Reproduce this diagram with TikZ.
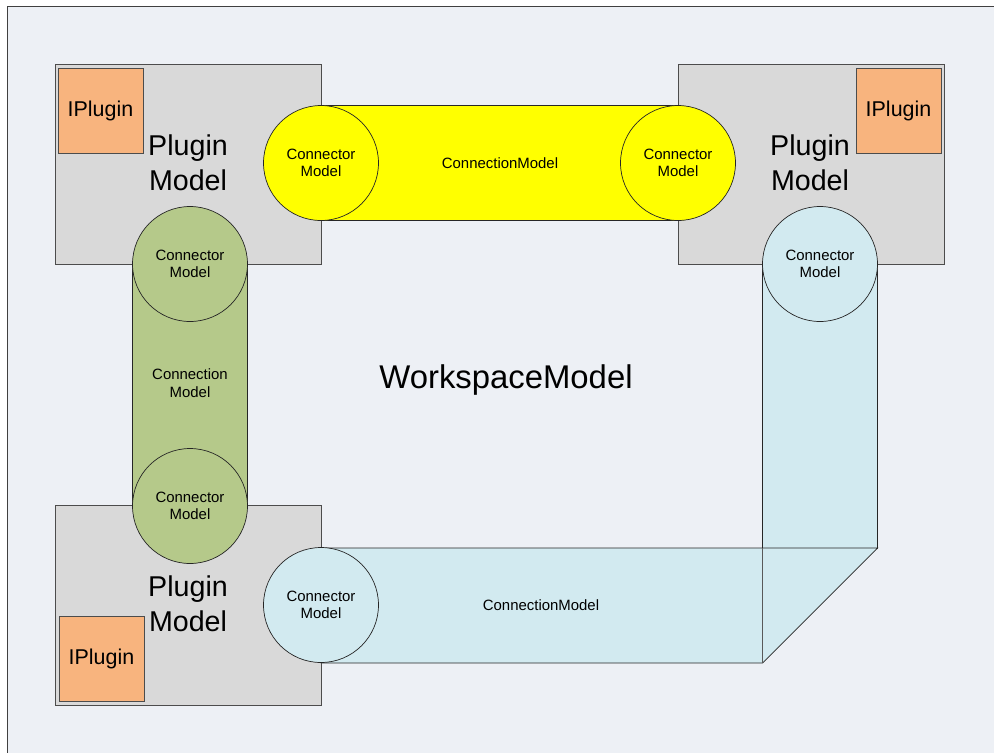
\documentclass[tikz,border=0pt]{standalone}
\usepackage{fontspec}
\setmainfont{Liberation Sans}
\usepackage{tikz}
\usetikzlibrary{calc}

\definecolor{wsback}{RGB}{237,240,245}
\definecolor{plugingray}{RGB}{217,217,217}
\definecolor{ipluginorange}{RGB}{248,180,126}
\definecolor{conyellow}{RGB}{255,255,0}
\definecolor{congreen}{RGB}{181,201,138}
\definecolor{conblue}{RGB}{210,234,240}

\tikzset{
    pluginbox/.style={draw=black!70, fill=plugingray},
    iplugin/.style={draw=black!70, fill=ipluginorange, minimum width=1.7cm, minimum height=1.7cm,
        inner sep=0pt, font=\fontsize{12.2}{14}\selectfont},
    pluginlabel/.style={align=center, font=\fontsize{16.3}{19.8}\selectfont},
    connector/.style={circle, draw=black!85, minimum size=2.3cm, inner sep=0pt, align=center,
        font=\fontsize{8.5}{9.4}\selectfont},
    connlabel/.style={align=center, font=\fontsize{8.5}{10.2}\selectfont},
}

\begin{document}
\begin{tikzpicture}[x=0.02cm, y=-0.02cm]
        \useasboundingbox (0,0) rectangle (994,752);
        \begin{scope}
            \clip (0,0) rectangle (994,752);
            \fill [white] (0,0) rectangle (994,752);
            \draw [fill=wsback, draw=black!75] (7,6) rectangle (1010,770);
        \end{scope}
        % plugin models
        \draw [pluginbox] (55,64) rectangle (321,264);
        \draw [pluginbox] (678,64) rectangle (944,264);
        \draw [pluginbox] (55,505) rectangle (321,705);
        \node [iplugin] (ipA) at (100.5,110.5) {IPlugin};
        \node [iplugin] (ipB) at (898.5,110.5) {IPlugin};
        \node [iplugin] (ipC) at (101.5,658.5) {IPlugin};
        \node [pluginlabel] (pmA) at (188,163) {Plugin\\Model};
        \node [pluginlabel] (pmB) at (810,163) {Plugin\\Model};
        \node [pluginlabel] (pmC) at (188,604) {Plugin\\Model};
        % connections
        \draw [fill=conyellow, draw=black!85] (321,105.5) rectangle (678,220.5);
        \draw [fill=congreen, draw=black!85] (132.5,264) rectangle (247.5,506);
        \draw [fill=conblue, draw=black!85] (762.5,264) rectangle (877.5,548);
        \draw [fill=conblue, draw=black!85]
            (321,548) -- (877.5,548) -- (762.5,663) -- (321,663) -- cycle;
        \draw [black!65] (762.5,548) -- (762.5,663);
        % connectors
        \node [connector, fill=conyellow] (cyA) at (321,163) {Connector\\Model};
        \node [connector, fill=conyellow] (cyB) at (678,163) {Connector\\Model};
        \node [connector, fill=congreen] (cgA) at (190,264) {Connector\\Model};
        \node [connector, fill=congreen] (cgB) at (190,506) {Connector\\Model};
        \node [connector, fill=conblue] (cbA) at (820,264) {Connector\\Model};
        \node [connector, fill=conblue] (cbB) at (321,605) {Connector\\Model};
        \node [connlabel] (clY) at (500,163) {ConnectionModel};
        \node [connlabel] (clG) at (190,383) {Connection\\Model};
        \node [connlabel] (clB) at (541,605) {ConnectionModel};
        \node [font=\fontsize{18.7}{22}\selectfont] (ws) at (506,380) {WorkspaceModel};
    \end{tikzpicture}
\end{document}
